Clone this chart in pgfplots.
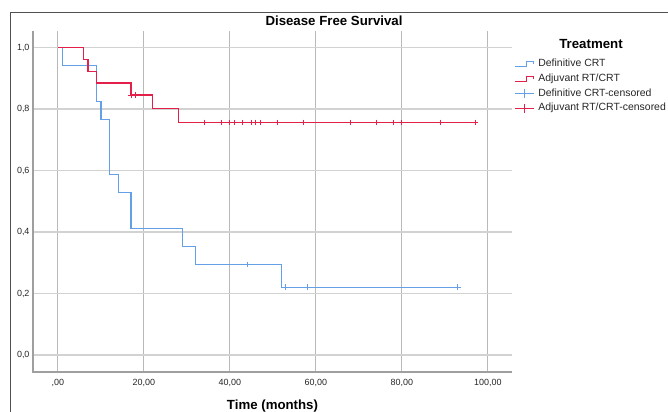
\documentclass[border=0pt]{standalone}
\usepackage{fontspec}
\setmainfont{Liberation Sans}
\usepackage{pgfplots}
\pgfplotsset{compat=1.18}
\definecolor{dcrt}{RGB}{100,160,232}
\definecolor{adj}{RGB}{226,32,74}
\definecolor{framec}{RGB}{80,80,80}
\begin{document}
\begin{tikzpicture}
\useasboundingbox (0,0) rectangle (668bp,412bp);
\draw[framec, line width=1.3bp] (10.5bp,0) -- (10.5bp,399.5bp) -- (668bp,399.5bp);
\begin{axis}[
  at={(33bp,40bp)}, anchor=south west, scale only axis,
  width=479bp, height=341bp,
  xmin=-5.8, xmax=105.6, ymin=-0.055, ymax=1.054,
  axis line style={draw=none},
  xtick={0,20,40,60,80,100},
  xticklabels={{,00},{20,00},{40,00},{60,00},{80,00},{100,00}},
  ytick={0,0.2,0.4,0.6,0.8,1},
  yticklabels={{0,0},{0,2},{0,4},{0,6},{0,8},{1,0}},
  major tick length=0pt,
  xmajorgrids, ymajorgrids,
  x grid style={gray!55, line width=1bp},
  y grid style={gray!35, line width=1.2bp},
  tick label style={font=\fontsize{9}{10}\selectfont, text=black!85},
  xticklabel style={yshift=-4bp},
  /pgf/number format/assume math mode=true,
  clip=false,
  legend style={at={(1,1)}, anchor=north west, xshift=2bp, yshift=-27.5bp,
    draw=none, fill=none, inner sep=0pt, row sep=4.2bp,
    font=\fontsize{10.5}{12}\selectfont, text=black!85,
    nodes={inner sep=0pt, text height=8bp, text depth=2.5bp}},
  legend cell align=left,
]
\addplot[const plot, dcrt, line width=1.2bp,
  legend image code/.code={\draw[dcrt,line width=1.1bp] (0bp,-2.5bp)--(12bp,-2.5bp)--(12bp,2.5bp)--(19bp,2.5bp)--(19bp,-0.5bp); \path (23bp,0bp);}]
  coordinates {(0,1) (1,0.941) (9,0.824) (10,0.765) (12,0.588) (14,0.529) (17,0.412) (29,0.353) (32,0.294) (52,0.221) (93,0.221)};
\addlegendentry{Definitive CRT}
\addplot[const plot, adj, line width=1.2bp,
  legend image code/.code={\draw[adj,line width=1.1bp] (0bp,-2.5bp)--(12bp,-2.5bp)--(12bp,2.5bp)--(19bp,2.5bp)--(19bp,-0.5bp); \path (23bp,0bp);}]
  coordinates {(0,1) (6,0.962) (7,0.923) (9,0.885) (17,0.846) (22,0.802) (28,0.757) (97,0.757)};
\addlegendentry{Adjuvant RT/CRT}
\addplot[only marks, mark=+, mark size=2.8bp, dcrt, mark options={line width=0.9bp},
  legend image code/.code={\draw[dcrt,line width=1bp] (0bp,0bp)--(19bp,0bp); \draw[dcrt,line width=1bp] (9.5bp,-4.5bp)--(9.5bp,4.5bp); \path (23bp,0bp);}]
  coordinates {(44,0.294) (53,0.221) (58,0.221) (93,0.221)};
\addlegendentry{Definitive CRT-censored}
\addplot[only marks, mark=+, mark size=2.8bp, adj, mark options={line width=0.9bp},
  legend image code/.code={\draw[adj,line width=1bp] (0bp,0bp)--(19bp,0bp); \draw[adj,line width=1bp] (9.5bp,-4.5bp)--(9.5bp,4.5bp); \path (23bp,0bp);}]
  coordinates {(17,0.846) (18,0.846) (34,0.757) (38,0.757) (40,0.757) (41,0.757) (43,0.757) (45,0.757) (46,0.757) (47,0.757) (51,0.757) (57,0.757) (68,0.757) (74,0.757) (78,0.757) (80,0.757) (89,0.757) (97,0.757)};
\addlegendentry{Adjuvant RT/CRT-censored}
\draw[gray!75, line width=1.2bp] (rel axis cs:0,1) -- (rel axis cs:0,0) -- (rel axis cs:1,0);
\end{axis}
\node[anchor=base, font=\fontsize{13.3}{15}\selectfont\bfseries] at (334bp,386bp) {Disease Free Survival};
\node[anchor=base, font=\fontsize{13.3}{15}\selectfont\bfseries] at (272.5bp,2.5bp) {Time (months)};
\node[anchor=base, font=\fontsize{13.3}{15}\selectfont\bfseries] at (591bp,363.7bp) {Treatment};
\end{tikzpicture}
\end{document}
